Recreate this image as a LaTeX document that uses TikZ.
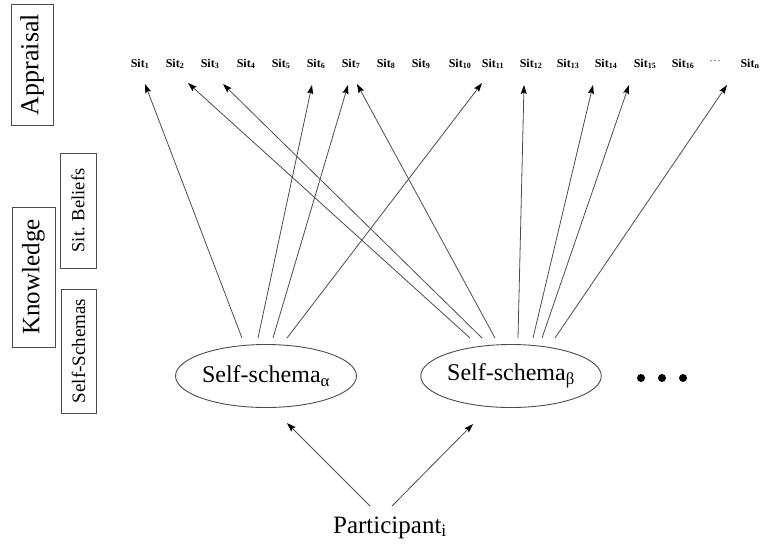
\documentclass[tikz,border=0pt]{standalone}
\usepackage{fontspec}
\setmainfont{Liberation Serif}
\usetikzlibrary{arrows.meta,calc,shapes.geometric}
\begin{document}
\begin{tikzpicture}[x=1pt,y=-1pt,
  sit/.style={font=\fontsize{12}{12}\selectfont\bfseries, inner sep=0pt, anchor=base},
  schema/.style={ellipse, draw=black!70, line width=0.9pt, minimum width=168pt,
    minimum height=63pt, inner sep=0pt, font=\fontsize{24}{24}\selectfont},
  levelbox/.style={draw=black!70, line width=0.9pt, rotate=90, inner sep=0pt},
  link/.style={draw=black!70, line width=0.8pt,
    -{Stealth[length=9pt,width=6pt,inset=1.5pt,color=black]}},
  bigdot/.style={circle, fill=black, inner sep=0pt, minimum size=8pt}]
\useasboundingbox (0,0) rectangle (762,547);

% level labels on the left
\node[levelbox, minimum width=121pt, minimum height=42pt,
  font=\fontsize{26}{26}\selectfont] (appraisal) at (32,64.5) {Appraisal};
\node[levelbox, minimum width=140pt, minimum height=43pt,
  font=\fontsize{25}{25}\selectfont] (knowledge) at (33.5,277) {Knowledge};
\node[levelbox, minimum width=115pt, minimum height=36pt,
  font=\fontsize{18.5}{18.5}\selectfont] (beliefs) at (78,210.5) {Sit. Beliefs};
\node[levelbox, minimum width=124pt, minimum height=35pt,
  font=\fontsize{19}{19}\selectfont] (schemas) at (78.5,351) {Self-Schemas};

% situations
\node[sit] (s1)  at (140,67) {Sit\textsubscript{1}};
\node[sit] (s2)  at (175,67) {Sit\textsubscript{2}};
\node[sit] (s3)  at (210,67) {Sit\textsubscript{3}};
\node[sit] (s4)  at (246,67) {Sit\textsubscript{4}};
\node[sit] (s5)  at (281,67) {Sit\textsubscript{5}};
\node[sit] (s6)  at (316,67) {Sit\textsubscript{6}};
\node[sit] (s7)  at (351,67) {Sit\textsubscript{7}};
\node[sit] (s8)  at (386,67) {Sit\textsubscript{8}};
\node[sit] (s9)  at (421,67) {Sit\textsubscript{9}};
\node[sit] (s10) at (460,67) {Sit\textsubscript{10}};
\node[sit] (s11) at (493,67) {Sit\textsubscript{11}};
\node[sit] (s12) at (531,67) {Sit\textsubscript{12}};
\node[sit] (s13) at (568,67) {Sit\textsubscript{13}};
\node[sit] (s14) at (606,67) {Sit\textsubscript{14}};
\node[sit] (s15) at (645,67) {Sit\textsubscript{15}};
\node[sit] (s16) at (683,67) {Sit\textsubscript{16}};
\node[sit] (sdots) at (715,67) {\raisebox{4pt}{\fontsize{7}{7}\selectfont· · ·}};
\node[sit] (sn)  at (750,67) {Sit\textsubscript{n}};

% self-schemas and participant
\node[schema] (a) at (266,376) {Self-schema\textsubscript{α}};
\node[schema] (b) at (511,376) {Self-schema\textsubscript{β}};
\node[bigdot] (d1) at (641,378) {};
\node[bigdot] (d2) at (662,378) {};
\node[bigdot] (d3) at (683,378) {};
\node[anchor=base, inner sep=0pt, font=\fontsize{25}{25}\selectfont] (p) at (390,533)
  {Participant\textsubscript{i}};

% arrow feet above the schemas
\coordinate (fa1) at ($(a.center)+(-24,-38)$);
\coordinate (fa2) at ($(a.center)+(-8,-38)$);
\coordinate (fa3) at ($(a.center)+(7,-38)$);
\coordinate (fa4) at ($(a.center)+(21,-38)$);
\coordinate (fb1) at ($(b.center)+(-41,-38)$);
\coordinate (fb2) at ($(b.center)+(-29,-38)$);
\coordinate (fb3) at ($(b.center)+(-16,-38)$);
\coordinate (fb4) at ($(b.center)+(7,-38)$);
\coordinate (fb5) at ($(b.center)+(22,-38)$);
\coordinate (fb6) at ($(b.center)+(31,-38)$);
\coordinate (fb7) at ($(b.center)+(44,-38)$);

% arrow tips below the situations
\coordinate (t1)  at (145,84);
\coordinate (t2)  at (188,83);
\coordinate (t3)  at (223,84);
\coordinate (t6)  at (312,85);
\coordinate (t7a) at (348,85);
\coordinate (t7b) at (357,84);
\coordinate (t11) at (482,83);
\coordinate (t12) at (524,85);
\coordinate (t14) at (593,85);
\coordinate (t15) at (629,85);
\coordinate (tn)  at (727,85);

\draw[link] (fa1) -- (t1);
\draw[link] (fa2) -- (t6);
\draw[link] (fa3) -- (t7a);
\draw[link] (fa4) -- (t11);
\draw[link] (fb1) -- (t2);
\draw[link] (fb2) -- (t3);
\draw[link] (fb3) -- (t7b);
\draw[link] (fb4) -- (t12);
\draw[link] (fb5) -- (t14);
\draw[link] (fb6) -- (t15);
\draw[link] (fb7) -- (tn);

% participant to schemas
\coordinate (pl) at ($(p.base)+(-20,-27)$);
\coordinate (pr) at ($(p.base)+(2,-27)$);
\coordinate (ta) at ($(a.center)+(21,47)$);
\coordinate (tb) at ($(b.center)+(-38,48)$);
\draw[link] (pl) -- (ta);
\draw[link] (pr) -- (tb);
\end{tikzpicture}
\end{document}
